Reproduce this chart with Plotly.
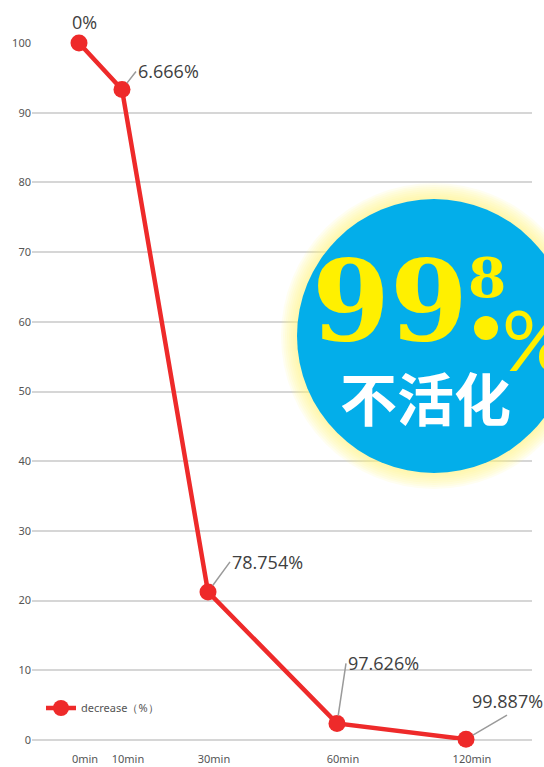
import plotly.graph_objects as go

# ---- data ----
time_labels = ["0min", "10min", "30min", "60min", "120min"]
axis_slots = [0, 1, 3, 6, 9]          # horizontal slot of each category on the axis
remaining = [100, 93.334, 21.246, 2.374, 0.113]
decrease_text = ["0%", "6.666%", "78.754%", "97.626%", "99.887%"]
y_ticks = [0, 10, 20, 30, 40, 50, 60, 70, 80, 90, 100]
series_name = "decrease（%）"

W, H = 544, 767
# plot area in page pixels: x 32..532, y 43..740
PL, PR, PT, PB = 32, 532, 43, 740
ML, MR, MT, MB = PL, W - PR, PT, H - PB
PW, PH = PR - PL, PB - PT


def px_x(px):
    return (px - PL) / PW


def px_y(py):
    return (PB - py) / PH


RED = "#ee2a2a"
LABEL_FONT = dict(family="Open Sans", size=18, color="#404040")

fig = go.Figure()
fig.add_trace(go.Scatter(
    x=axis_slots, y=remaining, mode="lines+markers", name=series_name,
    line=dict(color=RED, width=4.5), marker=dict(color=RED, size=17),
    cliponaxis=False,
))

# data labels with leader lines
offsets = [(5, -21, False), (14, -18, True), (22, -30, True), (9, -60, True), (41, -24, True)]
for i, (ax, ay, arrow) in enumerate(offsets):
    if arrow:
        fig.add_annotation(
            x=axis_slots[i], y=remaining[i], text=decrease_text[i],
            showarrow=True, arrowhead=0, arrowwidth=1.5, arrowcolor="#9a9a9a",
            ax=ax, ay=ay, axref="pixel", ayref="pixel",
            xanchor="left" if i < 4 else "center", yanchor="middle" if i < 4 else "bottom",
            standoff=8, font=LABEL_FONT,
        )
    else:
        fig.add_annotation(
            x=axis_slots[i], y=remaining[i], text=decrease_text[i],
            showarrow=False, xshift=ax, yshift=-ay, font=LABEL_FONT,
        )

# badge: glow + blue circle
cx, cy, r = 434, 336, 137
for k in range(16, 0, -2):
    fig.add_shape(type="circle", xref="paper", yref="paper",
                  xsizemode="pixel", ysizemode="pixel",
                  xanchor=px_x(cx), yanchor=px_y(cy),
                  x0=-(r + k), x1=r + k, y0=-(r + k), y1=r + k,
                  fillcolor="rgba(255,245,130,0.11)", line_width=0, layer="above")
fig.add_shape(type="circle", xref="paper", yref="paper",
              xsizemode="pixel", ysizemode="pixel",
              xanchor=px_x(cx), yanchor=px_y(cy),
              x0=-r, x1=r, y0=-r, y1=r,
              fillcolor="#03aeea", line_width=0, layer="above")
# decimal dot
fig.add_shape(type="circle", xref="paper", yref="paper",
              xsizemode="pixel", ysizemode="pixel",
              xanchor=px_x(486), yanchor=px_y(328),
              x0=-12, x1=12, y0=-12, y1=12,
              fillcolor="#fff000", line_width=0, layer="above")

YEL = "#fff000"


def badge_text(px, py, text, family, size, color, xanchor="center", weight=None):
    font = dict(family=family, size=size, color=color)
    if weight:
        font["weight"] = weight
    fig.add_annotation(x=px_x(px), y=px_y(py), xref="paper", yref="paper", showarrow=False,
                       xanchor=xanchor, yanchor="middle", text=text, font=font)


badge_text(390, 300, "<b>99</b>", "DejaVu Serif", 112, YEL)
badge_text(487, 277, "<b>8</b>", "DejaVu Serif", 55, YEL)
badge_text(500, 338, "%", "Lato", 84, YEL, xanchor="left", weight=400)
badge_text(425, 396, "<b>不活化</b>", "Noto Sans CJK SC", 57, "white")

fig.update_layout(
    width=W, height=H, margin=dict(l=ML, r=MR, t=MT, b=MB, autoexpand=False),
    paper_bgcolor="white", plot_bgcolor="white",
    showlegend=True,
    legend=dict(x=px_x(41), y=px_y(708), xanchor="left", yanchor="middle",
                bgcolor="rgba(0,0,0,0)", font=dict(family="Noto Sans", size=11, color="#555555"),
                itemwidth=30),
    xaxis=dict(range=[-47 / 43, (PW - 47) / 43], tickmode="array", tickvals=axis_slots,
               ticktext=time_labels, automargin=False,
               showgrid=False, zeroline=False, showline=False,
               ticks="outside", ticklen=9, tickcolor="rgba(0,0,0,0)", ticklabelshift=6,
               tickfont=dict(family="Noto Sans", size=11, color="#555555")),
    yaxis=dict(range=[0, 100], tickmode="array", tickvals=y_ticks, automargin=False,
               showgrid=True, gridcolor="#d6d6d6", gridwidth=2,
               zeroline=True, zerolinecolor="#d6d6d6", zerolinewidth=2, showline=False,
               tickfont=dict(family="Noto Sans", size=11, color="#555555")),
)

fig.write_html(
    "out.html",
    config={"displayModeBar": False},
    post_script="document.body.style.margin='0';document.documentElement.style.overflow='hidden';",
)
